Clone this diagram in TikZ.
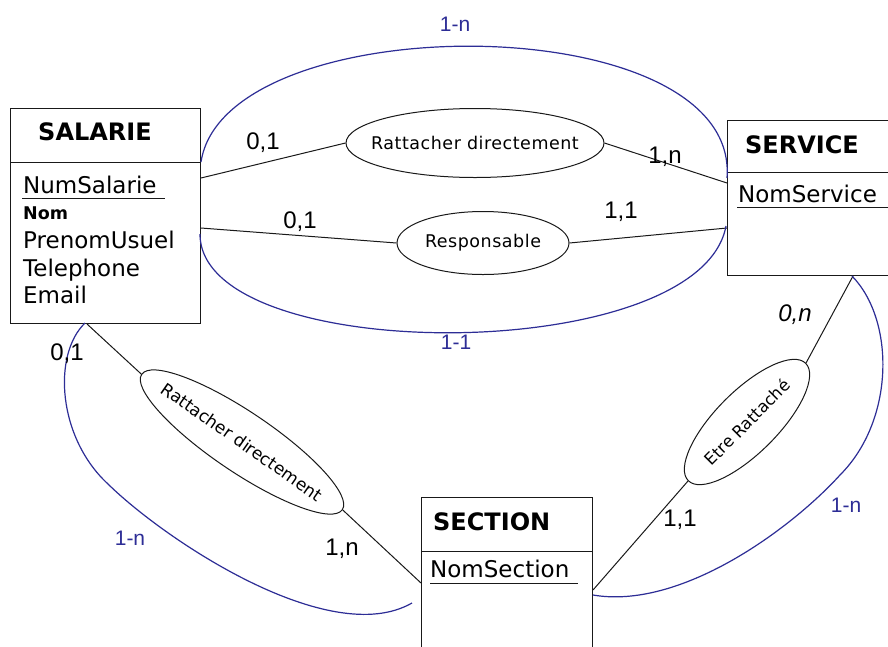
\documentclass[tikz,border=0pt]{standalone}
\usepackage{fontspec}
\setmainfont{DejaVu Sans}
\newfontfamily\lib{Liberation Sans}
\usetikzlibrary{shapes.geometric,calc}
\definecolor{arcblue}{RGB}{45,45,150}
\definecolor{ink}{RGB}{25,25,25}
\begin{document}
\begin{tikzpicture}[x=1pt,y=-1pt,
  box/.style={draw=ink,line width=1pt,rectangle,inner sep=0pt,anchor=north west},
  ttl/.style={inner sep=0pt,font=\fontsize{24}{26}\selectfont\bfseries},
  attr/.style={inner sep=0pt,anchor=base west,font=\fontsize{23}{26}\selectfont},
  rel/.style={draw=ink,line width=1pt,ellipse,inner sep=0pt},
  reltext/.style={inner sep=0pt,font=\fontsize{17.5}{20}\selectfont},
  card/.style={inner sep=0pt,font=\lib\fontsize{24}{26}\selectfont},
  bcard/.style={inner sep=0pt,text=arcblue,font=\lib\fontsize{21}{24}\selectfont},
  link/.style={draw=ink,line width=1pt},
  arc/.style={draw=arcblue,line width=1.2pt}]
\useasboundingbox (0,0) rectangle (888,646);
\clip (0,0) rectangle (888,646);
\fill[white] (0,0) rectangle (888,646);

% entities
\node[box,minimum width=190pt,minimum height=215pt] (sal) at (10,108) {};
\node[box,minimum width=175pt,minimum height=155pt] (serv) at (727,120) {};
\node[box,minimum width=171pt,minimum height=170pt] (sec) at (421,497) {};
\draw[link] ($(sal.north west)+(0,54)$) -- ($(sal.north east)+(0,54)$);
\draw[link] ($(serv.north west)+(0,52)$) -- ($(serv.north east)+(0,52)$);
\draw[link] ($(sec.north west)+(0,54)$) -- ($(sec.north east)+(0,54)$);

\node[ttl,anchor=base] (salt) at (95,140) {SALARIE};
\node[ttl,anchor=base west] (servt) at (745,153) {SERVICE};
\node[ttl,anchor=base west] (sect) at (433,530) {SECTION};

\node[attr] (a1) at (23,193) {NumSalarie};
\node[attr,font=\fontsize{17.5}{20}\selectfont\bfseries] (a2) at (23,219) {Nom};
\node[attr] (a3) at (23,248) {PrenomUsuel};
\node[attr] (a4) at (23,276) {Telephone};
\node[attr] (a5) at (23,303) {Email};
\node[attr] (b1) at (738,202) {NomService};
\node[attr] (c1) at (430,577) {NomSection};
\draw[draw=ink,line width=1pt] (22,198) -- (165,198);
\draw[draw=ink,line width=1pt] (737,207) -- (888,207);
\draw[draw=ink,line width=1pt] (430,583) -- (578,583);

% relations
\node[rel,minimum width=258pt,minimum height=69pt] (rd1) at (475,143) {};
\node[reltext,font=\addfontfeatures{LetterSpace=3}\fontsize{17.5}{20}\selectfont] (rd1t) at (rd1.center) {Rattacher directement};
\node[rel,minimum width=172pt,minimum height=63pt] (resp) at (483,243) {};
\node[reltext,font=\addfontfeatures{LetterSpace=3}\fontsize{17.5}{20}\selectfont] (respt) at (resp.center) {Responsable};
\node[rel,minimum width=242pt,minimum height=60pt,rotate=-34] (rd2) at (242,442) {};
\node[reltext,rotate=-35,font=\fontsize{17}{20}\selectfont] (rd2t) at (rd2.center) {Rattacher directement};
\node[rel,minimum width=166pt,minimum height=62pt,rotate=45] (etre) at (747,422) {};
\node[reltext,rotate=45,font=\fontsize{16.5}{20}\selectfont] (etret) at (etre.center) {Etre Rattaché};

% connectors
\coordinate (s1) at ($(sal.north east)+(0,70)$);
\coordinate (s2) at ($(sal.north east)+(0,120)$);
\coordinate (s3) at ($(sal.south west)+(77,0)$);
\coordinate (v1) at ($(serv.north west)+(0,63)$);
\coordinate (v2) at ($(serv.north west)+(0,108)$);
\coordinate (v3) at ($(serv.south west)+(126,0)$);
\coordinate (e1) at ($(sec.north west)+(0,86)$);
\coordinate (e2) at ($(sec.north east)+(0,93)$);
\draw[link] (s1) -- (rd1.west);
\draw[link] (rd1.east) -- (v1);
\draw[link] (s2) -- (resp.west);
\draw[link] (resp.east) -- (v2);
\draw[link] (s3) -- (rd2.west);
\draw[link] (rd2.east) -- (e1);
\draw[link] (v3) -- (etre.east);
\draw[link] (etre.west) -- (e2);

% blue arcs
\coordinate (ta) at ($(sal.north east)+(0,54)$);
\coordinate (tb) at ($(serv.north west)+(0,58)$);
\draw[arc] (ta) .. controls (225,5) and (740,5) .. (tb);
\coordinate (ba) at ($(sal.north east)+(-1,126)$);
\coordinate (bb) at ($(serv.north west)+(-1,106)$);
\draw[arc] (ba) .. controls (200,367) and (700,367) .. (bb);
\coordinate (la) at ($(sal.south west)+(75,-1)$);
\coordinate (lb) at (412,603);
\draw[arc] (la) .. controls (52,355) and (58,438) .. (108,484) .. controls (165,540) and (330,650) .. (lb);
\coordinate (ra) at ($(serv.south west)+(125,0)$);
\coordinate (rb) at ($(sec.north east)+(0,98)$);
\draw[arc] (ra) .. controls (895,320) and (895,420) .. (840,475) .. controls (790,530) and (680,610) .. (rb);

% cardinalities
\node[card] (k1) at (263,143) {0,1};
\node[card] (k2) at (665,157) {1,n};
\node[card] (k3) at (300,222) {0,1};
\node[card] (k4) at (621,212) {1,1};
\node[card] (k5) at (67,354) {0,1};
\node[card] (k6) at (342,549) {1,n};
\node[card,font=\lib\itshape\fontsize{24}{26}\selectfont] (k7) at (795,315) {0,n};
\node[card] (k8) at (680,520) {1,1};
\node[bcard] (m1) at (455,24) {1-n};
\node[bcard] (m2) at (456,342) {1-1};
\node[bcard] (m3) at (130,538) {1-n};
\node[bcard] (m4) at (846,505) {1-n};
\end{tikzpicture}
\end{document}
